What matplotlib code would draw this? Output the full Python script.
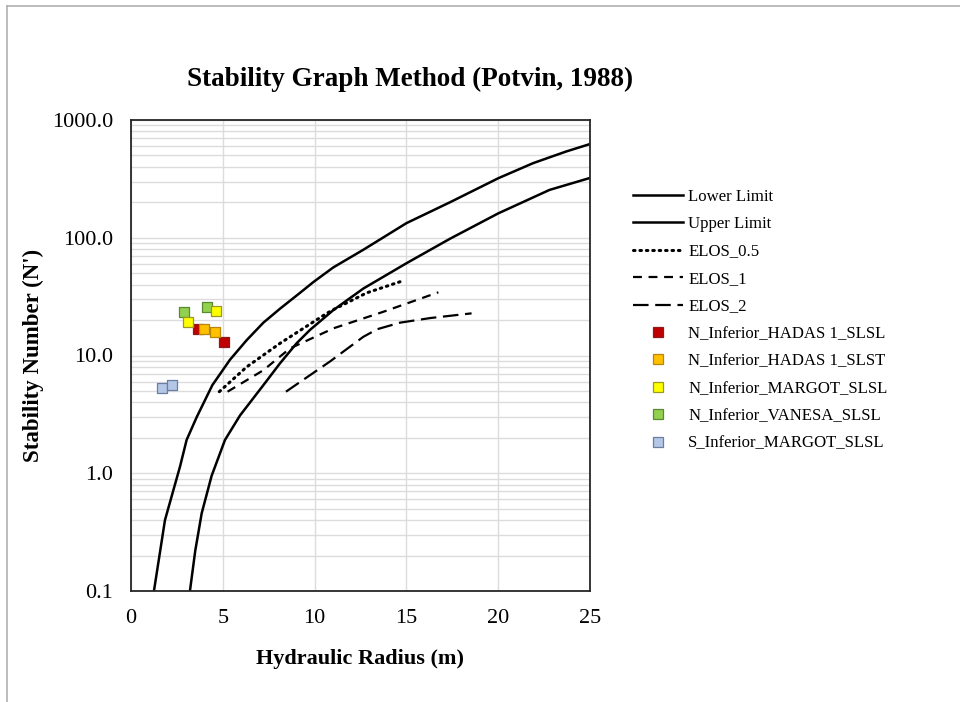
import matplotlib
matplotlib.use("Agg")
import matplotlib.pyplot as plt
from matplotlib.lines import Line2D
import numpy as np

plt.rcParams['font.family'] = ['Liberation Serif', 'DejaVu Serif']

# Lower / upper limit curves
lower_x = [1.25, 1.55, 1.85, 2.31, 2.67, 3.03, 3.58, 4.43, 5.39, 6.3, 7.21, 8.12, 9.2, 9.93, 11.02,
           12.65, 15.0, 17.37, 20.0, 21.9, 23.7, 25.0]
lower_y = [0.1, 0.2, 0.40, 0.72, 1.14, 1.92, 3.0, 5.6, 9.2, 13.5, 19, 25, 34, 42, 56,
           79, 133, 200, 320, 430, 540, 625]
upper_x = [3.21, 3.5, 3.85, 4.39, 5.12, 5.94, 7.21, 8.12, 9.02, 9.75, 11.02, 12.65, 15.0,
           17.37, 20.0, 22.8, 25.0]
upper_y = [0.1, 0.22, 0.457, 0.95, 1.92, 3.1, 5.6, 8.6, 12.7, 16.5, 24.3, 37, 60.7,
           98, 161, 255, 322]

# ELOS lines
elos05_x = [4.81, 6.3, 8.12, 10.66, 11.02, 12.83, 14.83]
elos05_y = [4.93, 8.0, 12.7, 22.8, 24.5, 34, 43.2]
elos1_x = [5.26, 7.21, 8.66, 10.66, 11.02, 13.74, 16.74]
elos1_y = [4.93, 7.5, 11.5, 16.0, 17.0, 23.5, 34.4]
elos2_x = [8.44, 10.84, 12.65, 13.4, 14.65, 16.3, 18.55]
elos2_y = [4.93, 8.9, 14.4, 16.7, 19.0, 20.8, 22.8]

# Point series
hadas_slsl_x = [3.67, 5.08]
hadas_slsl_y = [16.8, 12.9]
hadas_slst_x = [3.98, 4.58]
hadas_slst_y = [16.8, 15.9]
margot_x = [3.12, 4.63]
margot_y = [19.4, 23.9]
vanesa_x = [2.9, 4.16]
vanesa_y = [23.5, 25.7]
s_margot_x = [1.69, 2.23]
s_margot_y = [5.3, 5.6]

labels = ["Lower Limit", "Upper Limit", "ELOS_0.5", "ELOS_1", "ELOS_2",
          "N_Inferior_HADAS 1_SLSL", "N_Inferior_HADAS 1_SLST",
          "N_Inferior_MARGOT_SLSL", "N_Inferior_VANESA_SLSL", "S_Inferior_MARGOT_SLSL"]
colors = ["#c00000", "#ffc000", "#ffff00", "#92d050", "#b4c7e7"]
edge_colors = ["#8b1a1a", "#b8860b", "#9a9a20", "#5a8a30", "#6a7fa0"]

fig = plt.figure(figsize=(9.6, 7.02), dpi=100)
ax = fig.add_axes([131/960, 1-591/702, (590-131)/960, (591-120)/702])

lw = 1.8
h1, = ax.plot(lower_x, lower_y, color='black', lw=lw, solid_joinstyle='round')
h2, = ax.plot(upper_x, upper_y, color='black', lw=lw, solid_joinstyle='round')
h3, = ax.plot(elos05_x, elos05_y, color='black', lw=2.2, linestyle=(0, (0.5, 1.6)), dash_capstyle='round')
h4, = ax.plot(elos1_x, elos1_y, color='black', lw=1.6, linestyle=(0, (4, 3)))
h5, = ax.plot(elos2_x, elos2_y, color='black', lw=1.6, linestyle=(0, (7, 3)))

pts = [(hadas_slsl_x, hadas_slsl_y), (hadas_slst_x, hadas_slst_y), (margot_x, margot_y),
       (vanesa_x, vanesa_y), (s_margot_x, s_margot_y)]
zorders = [3, 4, 6, 5, 4]
phandles = []
for (xs, ys), c, ec, z in zip(pts, colors, edge_colors, zorders):
    ax.scatter(xs, ys, marker='s', s=60, c=c, edgecolors=ec, linewidths=0.9, zorder=z)
    phandles.append(Line2D([], [], marker='s', markersize=7, markerfacecolor=c,
                           markeredgecolor=ec, markeredgewidth=0.9, linestyle='None'))

ax.set_yscale('log')
ax.set_xlim(0, 25)
ax.set_ylim(0.1, 1000)
ax.set_xticks([0, 5, 10, 15, 20, 25])
ax.set_yticks([0.1, 1, 10, 100, 1000])
ax.set_yticklabels(["0.1", "1.0", "10.0", "100.0", "1000.0"])
ax.yaxis.set_minor_locator(matplotlib.ticker.LogLocator(base=10, subs=np.arange(2, 10)))
ax.yaxis.set_minor_formatter(matplotlib.ticker.NullFormatter())
ax.grid(True, which='major', color='#dcdcdc', lw=1.0)
ax.grid(True, which='minor', axis='y', color='#dcdcdc', lw=1.0)
ax.set_axisbelow(True)
ax.tick_params(which='both', length=0, labelsize=16)
ax.tick_params(axis='x', pad=13)
ax.tick_params(axis='y', pad=13)
for s in ax.spines.values():
    s.set_color('#262626')
    s.set_linewidth(1.3)

ax.set_xlabel("Hydraulic Radius (m)", fontsize=16, fontweight='bold')
ax.xaxis.set_label_coords(0.5, -(659 - 591) / 471, transform=ax.transAxes)
ax.xaxis.label.set_va('center')
ax.set_ylabel("Stability Number (N')", fontsize=16.5, fontweight='bold')
ax.yaxis.set_label_coords(-(131 - 33) / 459, 0.5, transform=ax.transAxes)
ax.yaxis.label.set_va('center')
fig.text(410/960, 1-79/702, "Stability Graph Method (Potvin, 1988)", fontsize=19.5,
         fontweight='bold', ha='center', va='center')

leg = fig.legend([h1, h2, h3, h4, h5] + phandles, labels, loc='upper left',
                 bbox_to_anchor=(626/960, 1-182/702), frameon=False, fontsize=12.1,
                 handlelength=3.0, handletextpad=0.3, labelspacing=0.68, borderaxespad=0)

# outer frame lines (top and left)
fig.add_artist(Line2D([7/960, 1], [1-6/702, 1-6/702], color='#b0b0b0', lw=1.2))
fig.add_artist(Line2D([7/960, 7/960], [0, 1-6/702], color='#b0b0b0', lw=1.2))

fig.savefig("out.png", dpi=100)
